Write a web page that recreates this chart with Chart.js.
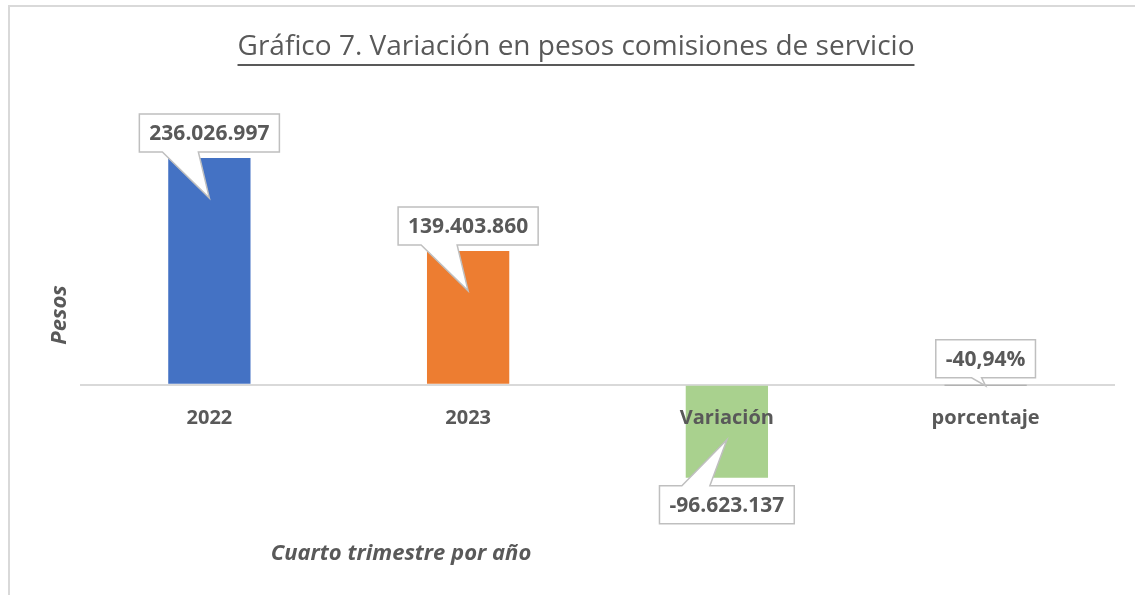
<!DOCTYPE html>
<html>
<head>
<meta charset="utf-8">
<script src="https://cdn.jsdelivr.net/npm/chart.js@4"></script>
<style>
  html, body { margin: 0; padding: 0; overflow: hidden; background: #fff; }
  #frame {
    position: absolute; left: 8px; top: 5px; width: 1200px; height: 700px;
    border-left: 2px solid #d9d9d9; border-top: 2px solid #d9d9d9;
  }
  #wrap { position: absolute; left: 0; top: 0; width: 1134px; height: 600px; }
</style>
</head>
<body>
<div id="frame">
  <div id="wrap"><canvas id="chart"></canvas></div>
</div>
<script>
const categories = ["2022", "2023", "Variación", "porcentaje"]
const values = [236026997, 139403860, -96623137, -40.94]
const valueLabels = ["236.026.997", "139.403.860", "-96.623.137", "-40,94%"]
const barColors = ["#4472C4", "#ED7D31", "#A9D18E", "#A5A5A5"]

const textColor = "#595959"
const font = "'Open Sans', 'DejaVu Sans', sans-serif"

// callout placement: side of the box, how far the tip sits inside the bar, gap tip -> box, wedge base offsets
const callouts = [
  { side: "above", tip: 40, gap: 46, b1: -47, b2: -11 },
  { side: "above", tip: 40, gap: 46, b1: -47, b2: -11 },
  { side: "below", tip: 38, gap: 46, b1: -45, b2: -17 },
  { side: "above", tip: 0, gap: 8, b1: -14, b2: -4 }
]

const calloutPlugin = {
  id: "callouts",
  afterDraw(chart) {
    const ctx = chart.ctx
    const meta = chart.getDatasetMeta(0)
    ctx.save()
    ctx.font = "bold 21px " + font
    ctx.textAlign = "center"
    ctx.textBaseline = "middle"
    meta.data.forEach((bar, i) => {
      const c = callouts[i]
      const cx = bar.x
      const text = valueLabels[i]
      const w = ctx.measureText(text).width + 20
      const h = 38
      let tipY, top
      if (c.side === "above") {
        tipY = values[i] >= 0 ? bar.y + c.tip : bar.base
        top = tipY - c.gap - h
      } else {
        tipY = bar.y - c.tip
        top = tipY + c.gap
      }
      const left = cx - w / 2, right = cx + w / 2, bottom = top + h
      ctx.beginPath()
      if (c.side === "above") {
        ctx.moveTo(left, top)
        ctx.lineTo(right, top)
        ctx.lineTo(right, bottom)
        ctx.lineTo(cx + c.b2, bottom)
        ctx.lineTo(cx, tipY)
        ctx.lineTo(cx + c.b1, bottom)
        ctx.lineTo(left, bottom)
      } else {
        ctx.moveTo(left, top)
        ctx.lineTo(cx + c.b1, top)
        ctx.lineTo(cx, tipY)
        ctx.lineTo(cx + c.b2, top)
        ctx.lineTo(right, top)
        ctx.lineTo(right, bottom)
        ctx.lineTo(left, bottom)
      }
      ctx.closePath()
      ctx.fillStyle = "#fff"
      ctx.fill()
      ctx.strokeStyle = "#bfbfbf"
      ctx.lineWidth = 1.5
      ctx.stroke()
      ctx.fillStyle = textColor
      ctx.fillText(text, cx, top + h / 2 + 1)
    })
    ctx.restore()
  }
}

const extrasPlugin = {
  id: "extras",
  afterDraw(chart) {
    const ctx = chart.ctx
    const area = chart.chartArea
    ctx.save()
    // underline for the title
    const tb = chart.titleBlock
    if (tb) {
      ctx.font = "28px " + font
      const tw = ctx.measureText(chart.options.plugins.title.text).width
      const cx = (tb.left + tb.right) / 2
      ctx.fillStyle = textColor
      ctx.fillRect(cx - tw / 2, 57, tw, 2)
    }
    ctx.fillStyle = textColor
    ctx.textAlign = "center"
    ctx.textBaseline = "middle"
    // x axis title
    ctx.font = "italic bold 22px " + font
    ctx.fillText("Cuarto trimestre por año", area.left + 321, 547)
    // y axis title
    ctx.translate(area.left - 20, 308)
    ctx.rotate(-Math.PI / 2)
    ctx.fillText("Pesos", 0, 0)
    ctx.restore()
  }
}

new Chart(document.getElementById("chart"), {
  type: "bar",
  data: {
    labels: categories,
    datasets: [{
      data: values,
      backgroundColor: barColors,
      barPercentage: 0.318,
      categoryPercentage: 1
    }]
  },
  options: {
    responsive: true,
    maintainAspectRatio: false,
    animation: false,
    layout: { padding: { left: 27, right: 29, top: 0, bottom: 78 } },
    plugins: {
      legend: { display: false },
      tooltip: { enabled: false },
      title: {
        display: true,
        text: "Gráfico 7. Variación en pesos comisiones de servicio",
        color: textColor,
        font: { family: font, size: 28, weight: "normal" },
        padding: { top: 23, bottom: 81 }
      }
    },
    scales: {
      x: {
        position: { y: 0 },
        grid: { display: false },
        border: { display: false },
        ticks: {
          z: 1,
          color: textColor,
          padding: 13,
          font: { family: font, size: 20, weight: "bold" }
        }
      },
      y: {
        min: -150000000,
        max: 250000000,
        afterFit(scale) { scale.width = 43 },
        ticks: { display: false },
        border: { display: false },
        grid: {
          drawTicks: false,
          lineWidth: 2,
          color: (c) => (c.tick && c.tick.value === 0 ? "#d9d9d9" : "rgba(0,0,0,0)")
        }
      }
    }
  },
  plugins: [calloutPlugin, extrasPlugin]
})
</script>
</body>
</html>
